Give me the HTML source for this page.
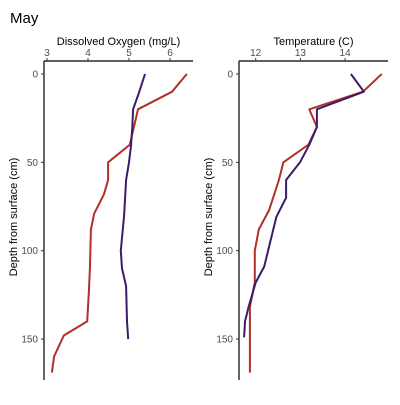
<!DOCTYPE html>
<html><head><meta charset="utf-8"><style>
body{margin:0;background:#fff}
svg{font-family:"Liberation Sans",sans-serif}
</style></head><body>
<svg width="400" height="400" xmlns="http://www.w3.org/2000/svg">
<rect width="400" height="400" fill="#fff"/>
<text x="10" y="23" font-size="15" fill="#000">May</text>
<g id="p1"></g><g id="p2"></g>
</svg>
<script>
const doDepthRed=[0,10,20,30,40,50,60,68,79,88,109,124,140,148,160,169];
const doRed=[6.41,6.05,5.22,5.12,5.02,4.49,4.49,4.39,4.15,4.07,4.05,4.02,3.98,3.41,3.17,3.12];
const doDepthBlue=[0,10,20,30,40,50,60,80,100,110,120,140,150];
const doBlue=[5.39,5.25,5.1,5.08,5.05,5.0,4.93,4.88,4.8,4.83,4.93,4.95,4.98];
const tDepthRed=[0,10,20,30,40,50,60,77,88,100,118,132,169];
const tRed=[14.82,14.4,13.2,13.37,13.18,12.62,12.52,12.3,12.07,11.98,11.98,11.87,11.87];
const tDepthBlue=[0,10,20,30,40,50,60,70,81,109,118,132,140,149];
const tBlue=[14.13,14.42,13.37,13.37,13.2,12.99,12.68,12.68,12.46,12.19,12.0,11.84,11.76,11.74];
const doTicks=[3,4,5,6];
const tTicks=[12,13,14];
const depthTicks=[0,50,100,150];
const NS='http://www.w3.org/2000/svg';
function mk(p,tag,a){const e=document.createElementNS(NS,tag);for(const k in a)e.setAttribute(k,a[k]);p.appendChild(e);return e;}
const yS=d=>74+d*1.767;
function panel(g,x0,x1,xs,ticks,title,series,nm){
  const ax=mk(g,'line',{x1:x0,x2:x1,y1:61,y2:61,stroke:'#000','stroke-width':1.2});
  
  
  const ay=mk(g,'line',{x1:x0,x2:x0,y1:61,y2:380,stroke:'#000','stroke-width':1.2});
  
  
  ticks.forEach(t=>{
    mk(g,'line',{x1:xs(t),x2:xs(t),y1:58,y2:61,stroke:'#333'});
    const tx=mk(g,'text',{x:xs(t),y:56,'font-size':10,'text-anchor':'middle',fill:'#4d4d4d'});
    tx.textContent=t;
    
    
  });
  depthTicks.forEach(d=>{
    mk(g,'line',{x1:x0-3,x2:x0,y1:yS(d),y2:yS(d),stroke:'#333'});
    const tx=mk(g,'text',{x:x0-6,y:yS(d)+3.5,'font-size':10,'text-anchor':'end',fill:'#4d4d4d'});
    tx.textContent=d;
    
    
  });
  const tt=mk(g,'text',{x:(x0+x1)/2,y:45,'font-size':11,'text-anchor':'middle',fill:'#000'});
  tt.textContent=title;
  
  
  const yt=mk(g,'text',{x:0,y:0,'font-size':11,'text-anchor':'middle',fill:'#000',transform:`translate(${x0-27},217) rotate(-90)`});
  yt.textContent='Depth from surface (cm)';
  
  
  series.forEach(s=>{
    const pts=s.v.map((v,i)=>xs(v).toFixed(1)+','+yS(s.d[i]).toFixed(1)).join(' ');
    const pl=mk(g,'polyline',{points:pts,fill:'none',stroke:s.c,'stroke-width':2,'stroke-linejoin':'round'});
    
    
  });
}
panel(document.getElementById('p1'),44,193,v=>47+(v-3)*41,doTicks,'Dissolved Oxygen (mg/L)',
 [{d:doDepthRed,v:doRed,c:'#b0302a',n:'red'},{d:doDepthBlue,v:doBlue,c:'#3b1c68',n:'blue'}],'oxygen');
panel(document.getElementById('p2'),239,388,v=>255.7+(v-12)*44.7,tTicks,'Temperature (C)',
 [{d:tDepthRed,v:tRed,c:'#b0302a',n:'red'},{d:tDepthBlue,v:tBlue,c:'#3b1c68',n:'blue'}],'temperature');
</script>
</body></html>
